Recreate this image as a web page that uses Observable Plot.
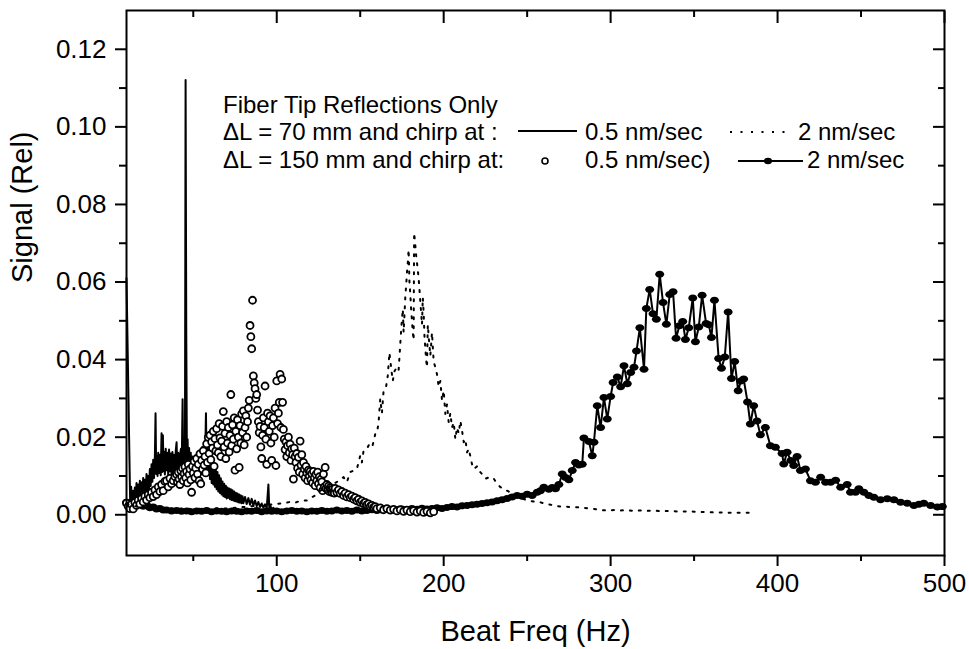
<!DOCTYPE html>
<html><head><meta charset="utf-8">
<script src="https://cdn.jsdelivr.net/npm/d3@7"></script>
<script src="https://cdn.jsdelivr.net/npm/@observablehq/plot@0.6"></script>
<style>html,body{margin:0;padding:0;background:#fff}#chart{width:969px;height:649px}</style>
</head><body><div id="chart"></div>
<script>
// ---- axis ticks & text ----
const xMajor = [100, 200, 300, 400, 500];
const xMinor = [50, 150, 250, 350, 450];
const yMajor = [0, 0.02, 0.04, 0.06, 0.08, 0.10, 0.12];
const yMinor = [0.01, 0.03, 0.05, 0.07, 0.09, 0.11];
const xTitle = "Beat Freq (Hz)";
const yTitle = "Signal (Rel)";
const legendTitle = "Fiber Tip Reflections Only";
const legendRow1 = "\u0394L = 70 mm and chirp at :";
const legendRow2 = "\u0394L = 150 mm and chirp at:";
const legendLabels = ["0.5 nm/sec", "2 nm/sec", "0.5 nm/sec)", "2 nm/sec"];

// ---- ΔL = 70 mm, 0.5 nm/sec (solid line) [Hz, signal] ----
const dl70slow = [
[10,0.061],[12.2,0.0030],[12.8,0.0072],[13.3,0.0032],[14,0.0062],[14.5,0.0028],[15,0.0070],[15.5,0.0036],
[16,0.0082],[16.5,0.0040],[17,0.0078],[17.5,0.0038],[18,0.0088],[18.5,0.0046],[19,0.0084],[19.5,0.0050],
[20,0.0095],[20.5,0.0055],[21,0.0090],[21.5,0.0058],[22,0.0105],[22.5,0.0062],[23,0.0100],[23.5,0.0066],
[24,0.0118],[24.5,0.0074],[25,0.0130],[25.5,0.0085],[26,0.0142],[26.5,0.0095],[27,0.0150],[27.4,0.0262],
[27.8,0.0105],[28.2,0.0152],[28.6,0.0100],[29,0.0160],[29.5,0.0108],[30,0.0155],[30.5,0.0102],[31,0.0210],
[31.4,0.0110],[31.8,0.0205],[32.2,0.0112],[32.6,0.0162],[33,0.0104],[33.5,0.0170],[34,0.0115],[34.5,0.0160],
[35,0.0100],[35.5,0.0168],[36,0.0112],[36.5,0.0158],[37,0.0098],[37.5,0.0162],[38,0.0108],[38.5,0.0155],
[39,0.0096],[39.5,0.0165],[40,0.0187],[40.5,0.0104],[41,0.0160],[41.5,0.0098],[42,0.0152],[42.6,0.0170],
[43,0.0100],[43.6,0.0298],[44,0.0120],[44.5,0.0180],[45,0.0112],[45.4,0.1121],[45.8,0.0470],[46.2,0.0130],
[46.6,0.0195],[47,0.0115],[47.5,0.0172],[48,0.0105],[48.5,0.0160],[49,0.0095],[49.5,0.0150],[50,0.0088],
[50.5,0.0140],[51,0.0085],[51.5,0.0145],[52,0.0090],[52.5,0.0155],[53,0.0095],[53.5,0.0165],[54,0.0100],
[54.5,0.0160],[55,0.0105],[55.5,0.0175],[56,0.0110],[56.5,0.0165],[57,0.0118],[57.6,0.0262],[58,0.0122],
[58.5,0.0202],[59,0.0105],[59.5,0.0152],[60,0.0092],[60.5,0.0138],[61,0.0082],[61.5,0.0130],[62,0.0078],
[62.5,0.0122],[63,0.0072],[63.5,0.0116],[64,0.0066],[64.5,0.0110],[65,0.0060],[65.5,0.0102],[66,0.0056],
[66.5,0.0094],[67,0.0052],[67.5,0.0086],[68,0.0048],[68.5,0.0080],[69,0.0046],[69.5,0.0075],[70,0.0042],
[70.5,0.0070],[71,0.0044],[71.5,0.0068],[72,0.0040],[72.5,0.0066],[73,0.0038],[73.5,0.0063],[74,0.0037],
[74.5,0.0060],[75,0.0035],[75.5,0.0057],[76,0.0034],[76.5,0.0055],[77,0.0032],[77.5,0.0052],[78,0.0031],
[78.5,0.0050],[79,0.0030],[79.5,0.0048],[80,0.0030],[81,0.0046],[82,0.0028],[83,0.0043],[84,0.0026],
[85,0.0041],[86,0.0024],[87,0.0037],[88,0.0022],[89,0.0033],[90,0.0020],[91,0.0029],[92,0.0018],
[93,0.0027],[94,0.0017],[95,0.0078],[95.5,0.0018],[96,0.0025],[97,0.0014],[98,0.0018],[99,0.0012],[100,0.0015]
];

// ---- ΔL = 70 mm, 2 nm/sec (dotted line) ----
const dl70fast = [
[10,0.0028],[15,0.0022],[20,0.0018],[25,0.0020],[30,0.0016],[35,0.0018],[40,0.0015],[45,0.0017],
[50,0.0014],[55,0.0016],[60,0.0015],[65,0.0017],[70,0.0016],[75,0.0018],[80,0.0020],[85,0.0022],
[90,0.0024],[95,0.0026],[100,0.0028],[104,0.0030],[108,0.0033],[111,0.0031],[114,0.0036],[118,0.0037],
[121,0.0045],[124,0.0052],[126,0.0062],[129,0.0068],[132,0.0075],[135,0.0082],[138,0.0090],[140,0.0097],
[142,0.0084],[144,0.0110],[146,0.0114],[148,0.0118],[150,0.0152],[151,0.0135],[152,0.0165],[154,0.0170],
[156,0.0187],[157.5,0.0180],[159,0.0208],[160,0.0210],[161,0.0238],[161.5,0.0268],[162,0.0299],[163,0.0262],
[164,0.0320],[165.5,0.0330],[166.5,0.0358],[167,0.0388],[167.5,0.0418],[168.5,0.0380],[169.5,0.0345],[170.5,0.0370],
[172,0.0380],[173,0.0372],[174,0.0440],[174.5,0.0474],[175,0.0504],[175.5,0.0530],[176,0.0470],[177,0.0560],
[177.5,0.0590],[178,0.0624],[178.5,0.0650],[179,0.0684],[179.5,0.0600],[180,0.0570],[180.5,0.0530],[181,0.0500],
[181.5,0.0470],[182,0.0450],[182.3,0.0727],[183,0.0695],[183.5,0.0669],[184,0.0650],[184.5,0.0630],[185,0.0610],
[185.5,0.0580],[186,0.0550],[186.5,0.0520],[187,0.0490],[187.5,0.0560],[188,0.0520],[188.5,0.0460],[189,0.0430],
[189.5,0.0400],[190,0.0380],[190.5,0.0490],[191,0.0460],[192,0.0410],[193,0.0470],[194,0.0395],[195,0.0380],
[196,0.0362],[197,0.0330],[198,0.0345],[199,0.0294],[200,0.0320],[201,0.0260],[202,0.0285],[203,0.0238],
[204,0.0262],[205,0.0225],[206,0.0238],[207,0.0195],[208,0.0225],[209,0.0210],[210,0.0242],[211,0.0217],
[212,0.0187],[213,0.0195],[214,0.0161],[215,0.0170],[217,0.0130],[218,0.0118],[220,0.0125],[221,0.0114],
[223,0.0105],[225,0.0093],[228,0.0098],[230,0.0093],[232,0.0080],[234,0.0071],[236,0.0068],[238,0.0062],
[241,0.0055],[244,0.0050],[247,0.0042],[250,0.0037],[254,0.0034],[258,0.0032],[261,0.0028],[264,0.0026],
[268,0.0022],[272,0.0021],[276,0.0020],[281,0.0019],[286,0.0017],[290,0.0015],[294,0.0012],[298,0.0011],
[302,0.0012],[306,0.0011],[310,0.0012],[314,0.0010],[318,0.0011],[322,0.0010],[326,0.0011],[330,0.0009],
[334,0.0010],[338,0.0009],[342,0.0008],[346,0.0009],[350,0.0008],[354,0.0007],[358,0.0007],[362,0.0006],
[366,0.0006],[370,0.0005],[374,0.0006],[378,0.0005],[382,0.0005],[384,0.0005]
];

// ---- ΔL = 150 mm, 0.5 nm/sec (open circles) ----
const dl150slow = [
[10,0.0030],[11,0.0022],[12,0.0016],[13,0.0027],[14,0.0015],[15,0.0032],[16,0.0024],[17,0.0038],[18,0.0028],[19,0.0042],
[20,0.0033],[21,0.0048],[22,0.0038],[23,0.0052],[24,0.0044],[25,0.0058],[26,0.0047],[27,0.0064],[28,0.0052],[29,0.0072],
[30,0.0060],[31,0.0078],[32,0.0062],[33,0.0086],[34,0.0088],[35,0.0072],[36,0.0094],[37,0.0080],[38,0.0088],[39,0.0098],
[40,0.0104],[40.5,0.0085],[41,0.0110],[41.5,0.0092],[42,0.0078],[42.5,0.0114],[43,0.0098],[43.5,0.0120],[44,0.0088],[44.5,0.0106],
[45,0.0124],[45.5,0.0095],[46,0.0112],[46.5,0.0082],[47,0.0130],[47.5,0.0104],[48,0.0118],[48.5,0.0090],[49,0.0058],[49.5,0.0125],
[50,0.0108],[50.5,0.0138],[51,0.0096],[51.5,0.0120],[52,0.0145],[52.5,0.0105],[53,0.0130],[53.5,0.0088],[54,0.0157],[54.5,0.0080],
[55,0.0140],[55.5,0.0118],[56,0.0165],[56.5,0.0128],[57,0.0150],[57.5,0.0108],[58,0.0183],[58.5,0.0135],[59,0.0200],[59.5,0.0158],
[60,0.0205],[60.5,0.0142],[61,0.0188],[61.5,0.0172],[62,0.0215],[62.5,0.0125],[63,0.0196],[63.5,0.0165],[64,0.0222],[64.5,0.0180],
[65,0.0160],[65.5,0.0235],[66,0.0198],[66.5,0.0150],[67,0.0190],[67.5,0.0228],[68,0.0266],[68.5,0.0175],[69,0.0210],[69.5,0.0145],
[70,0.0240],[70.5,0.0185],[71,0.0225],[71.5,0.0162],[72,0.0205],[72.5,0.0310],[73,0.0178],[73.5,0.0232],[74,0.0195],[74.5,0.0250],
[75,0.0115],[75.5,0.0215],[76,0.0170],[76.5,0.0245],[77,0.0200],[77.5,0.0122],[78,0.0230],[78.5,0.0185],[79,0.0260],[79.5,0.0212],
[80,0.0268],[80.5,0.0180],[81,0.0225],[81.5,0.0255],[82,0.0200],[82.5,0.0240],[83,0.0275],[83.5,0.0295],[84,0.0488],[84.5,0.0459],
[85,0.0428],[85.5,0.0553],[86,0.0358],[86.5,0.0340],[87,0.0325],[87.5,0.0300],[88,0.0310],[88.5,0.0270],[89,0.0240],[89.5,0.0212],
[90,0.0228],[90.5,0.0175],[91,0.0145],[91.5,0.0205],[92,0.0250],[92.5,0.0225],[93,0.0332],[93.5,0.0195],[94,0.0130],[94.5,0.0262],
[95,0.0240],[95.5,0.0215],[96,0.0255],[96.5,0.0185],[97,0.0140],[97.5,0.0230],[98,0.0250],[98.5,0.0200],[99,0.0275],[99.5,0.0127],
[100,0.0345],[100.5,0.0235],[101,0.0262],[101.5,0.0290],[102,0.0362],[102.5,0.0225],[103,0.0350],[103.5,0.0290],[104,0.0220],[104.5,0.0195],
[105,0.0168],[105.5,0.0188],[106,0.0150],[106.5,0.0178],[107,0.0200],[107.5,0.0160],[108,0.0182],[108.5,0.0140],[109,0.0170],[109.5,0.0155],
[110,0.0092],[110.5,0.0172],[111,0.0150],[111.5,0.0135],[112,0.0158],[112.5,0.0120],[113,0.0148],[113.5,0.0110],[114,0.0190],[114.5,0.0128],
[115,0.0155],[115.5,0.0105],[116,0.0135],[116.5,0.0118],[117,0.0095],[117.5,0.0125],[118,0.0108],[118.5,0.0088],[119,0.0115],[119.5,0.0100],
[120,0.0112],[120.5,0.0090],[121,0.0106],[121.5,0.0082],[122,0.0112],[122.5,0.0096],[123,0.0075],[123.5,0.0104],[124,0.0088],[124.5,0.0110],
[125,0.0080],[125.5,0.0098],[126,0.0070],[126.5,0.0092],[127,0.0085],[127.5,0.0062],[128,0.0105],[128.5,0.0072],[129,0.0122],[129.5,0.0068],
[130,0.0078],[130.5,0.0064],[131,0.0074],[131.5,0.0060],[132,0.0070],[132.5,0.0062],[133,0.0058],[133.5,0.0066],[134,0.0060],[134.5,0.0056],
[135,0.0068],[136,0.0058],[137,0.0064],[138,0.0055],[139,0.0060],[140,0.0050],[141,0.0056],[142,0.0046],[143,0.0052],[144,0.0044],
[145,0.0048],[146,0.0040],[147,0.0044],[148,0.0036],[149,0.0040],[150,0.0032],[151,0.0036],[152,0.0029],[153,0.0032],[154,0.0026],
[155,0.0028],[156,0.0022],[157,0.0024],[158,0.0019],[159,0.0021],[160,0.0016],[162,0.0018],[164,0.0013],[166,0.0016],[168,0.0012],
[170,0.0014],[172,0.0010],[174,0.0013],[176,0.0009],[178,0.0012],[180,0.0008],[182,0.0011],[184,0.0007],[186,0.0010],[188,0.0006],
[190,0.0009],[192,0.0005],[194,0.0008]
];

// ---- ΔL = 150 mm, 2 nm/sec (line + filled dots) ----
const dl150fast = [
[10,0.0032],[12,0.0028],[14,0.0035],[16,0.0025],[18,0.0030],[20,0.0022],[22,0.0026],[24,0.0018],[26,0.0020],[28,0.0015],
[30,0.0016],[32,0.0012],[34,0.0012],[37,0.0010],[40,0.0011],[43,0.0009],[46,0.0010],[49,0.0008],[52,0.0010],[55,0.0009],
[58,0.0011],[61,0.0008],[64,0.0010],[67,0.0009],[70,0.0008],[73,0.0010],[76,0.0009],[79,0.0008],[82,0.0010],[85,0.0009],
[88,0.0011],[91,0.0008],[94,0.0010],[97,0.0009],[100,0.0010],[103,0.0008],[106,0.0010],[109,0.0011],[112,0.0009],[115,0.0010],
[118,0.0008],[121,0.0010],[124,0.0009],[127,0.0011],[130,0.0009],[133,0.0010],[136,0.0012],[139,0.0010],[142,0.0011],[145,0.0009],
[148,0.0012],[151,0.0010],[154,0.0011],[157,0.0013],[160,0.0011],[163,0.0012],[166,0.0014],[169,0.0012],[172,0.0013],[175,0.0015],
[178,0.0013],[181,0.0016],[184,0.0014],[187,0.0017],[190,0.0015],[193,0.0016],[196,0.0018],[199,0.0016],[202,0.0019],[205,0.0021],
[208,0.0020],[211,0.0023],[214,0.0024],[217,0.0026],[220,0.0027],[223,0.0029],[226,0.0031],[229,0.0033],[232,0.0036],[235,0.0039],
[238,0.0042],[241,0.0046],[244,0.0050],[247,0.0048],[250,0.0053],[253,0.0050],[256,0.0058],[258,0.0062],[260,0.0071],[263,0.0066],
[265,0.0070],[267,0.0067],[269,0.0078],[271,0.0105],[273,0.0096],[275,0.0090],[277,0.0114],[279,0.0135],[281,0.0128],[283,0.0130],
[284,0.0198],[287,0.0189],[289,0.0152],[290,0.0187],[292,0.0281],[294,0.0225],[296,0.0302],[298,0.0247],[300,0.0305],[301.5,0.0341],
[304,0.0355],[306,0.0330],[308,0.0384],[310,0.0338],[312,0.0367],[314,0.0380],[315.5,0.0422],[317.5,0.0482],[320,0.0375],[321.4,0.0532],
[323.4,0.0581],[325.4,0.0518],[327.4,0.0504],[329.4,0.0620],[331.4,0.0547],[333.4,0.0491],[335.4,0.0568],[337.4,0.0575],[339.2,0.0455],[341.2,0.0487],
[343.2,0.0498],[344.8,0.0452],[346.8,0.0482],[349.2,0.0559],[350.8,0.0446],[352.8,0.0484],[354.8,0.0566],[357.2,0.0493],[358.8,0.0490],[360.4,0.0457],
[362.2,0.0553],[364.7,0.0403],[366.4,0.0378],[368.4,0.0407],[370.4,0.0523],[372.4,0.0351],[374.3,0.0395],[376.4,0.0320],[378,0.0345],[379.7,0.0350],
[382,0.0291],[383.7,0.0234],[385.7,0.0281],[387.7,0.0242],[389.7,0.0206],[392.7,0.0225],[395.7,0.0178],[398.7,0.0174],[402.7,0.0158],[403.7,0.0131],
[405.7,0.0161],[408,0.0140],[409.7,0.0127],[411.7,0.0150],[413.7,0.0114],[416.7,0.0118],[419.7,0.0088],[422.7,0.0084],[425.8,0.0097],[428.8,0.0084],
[431.8,0.0084],[434.8,0.0089],[437.8,0.0071],[441.7,0.0078],[443.7,0.0058],[446.7,0.0058],[448.7,0.0067],[451.7,0.0058],[454.7,0.0050],[457.7,0.0045],
[461.7,0.0039],[465.7,0.0041],[469.7,0.0039],[473.7,0.0032],[477.7,0.0030],[481.7,0.0024],[484.7,0.0027],[487.6,0.0030],[491.7,0.0024],[495.7,0.0020],
[498.7,0.0021]
];

const fx = d => d[0], fy = d => d[1];
const FONT = "'Liberation Sans', Arial, Helvetica, sans-serif";

// flattened ellipse marker like the original filled symbols
const ellipse = {
  draw(ctx) {
    const rx = 4.5, ry = 3.5, kx = rx * 0.5523, ky = ry * 0.5523;
    ctx.moveTo(rx, 0);
    ctx.bezierCurveTo(rx, ky, kx, ry, 0, ry);
    ctx.bezierCurveTo(-kx, ry, -rx, ky, -rx, 0);
    ctx.bezierCurveTo(-rx, -ky, -kx, -ry, 0, -ry);
    ctx.bezierCurveTo(kx, -ry, rx, -ky, rx, 0);
    ctx.closePath();
  }
};

const blank = () => "";
const chart = Plot.plot({
  width: 969, height: 649,
  marginLeft: 126, marginRight: 25, marginTop: 10, marginBottom: 94,
  style: {fontFamily: FONT, color: "black", background: "white", overflow: "visible"},
  x: {domain: [10, 500], axis: null},
  y: {domain: [-0.0105, 0.13], axis: null},
  marks: [
    Plot.line(dl150fast, {x: fx, y: fy, stroke: "black", strokeWidth: 2}),
    Plot.dot(dl150fast, {x: fx, y: fy, fill: "black", stroke: "none", symbol: ellipse}),
    Plot.line(dl70slow, {x: fx, y: fy, stroke: "black", strokeWidth: 2}),
    Plot.dot(dl150slow, {x: fx, y: fy, r: 3.5, fill: "white", stroke: "black", strokeWidth: 1.8}),
    Plot.line(dl70fast, {x: fx, y: fy, stroke: "black", strokeWidth: 2, strokeDasharray: "2,7"}),
    Plot.frame({stroke: "black", strokeWidth: 2}),
    Plot.axisX({ticks: xMajor, anchor: "bottom", tickSize: 11, tickPadding: 7, fontSize: 26, strokeWidth: 2, label: null, tickFormat: d3.format("d")}),
    Plot.axisX({ticks: xMinor, anchor: "bottom", tickSize: 6, strokeWidth: 2, label: null, tickFormat: blank}),
    Plot.axisX({ticks: xMajor, anchor: "top", tickSize: -12, strokeWidth: 2, label: null, tickFormat: blank}),
    Plot.axisX({ticks: xMinor, anchor: "top", tickSize: -6, strokeWidth: 2, label: null, tickFormat: blank}),
    Plot.axisY({ticks: yMajor, anchor: "left", tickSize: 11, tickPadding: 9, fontSize: 26, strokeWidth: 2, label: null, tickFormat: d3.format(".2f")}),
    Plot.axisY({ticks: yMinor, anchor: "left", tickSize: 7, strokeWidth: 2, label: null, tickFormat: blank}),
    Plot.axisY({ticks: yMajor, anchor: "right", tickSize: -12, strokeWidth: 2, label: null, tickFormat: blank}),
    Plot.axisY({ticks: yMinor, anchor: "right", tickSize: -7, strokeWidth: 2, label: null, tickFormat: blank}),
    Plot.text([xTitle], {text: d => d, frameAnchor: "bottom", dy: 85, lineAnchor: "bottom", fontSize: 29}),
    Plot.text([yTitle], {text: d => d, frameAnchor: "left", rotate: -90, dx: -95, lineAnchor: "bottom", fontSize: 29})
  ]
});
document.getElementById("chart").appendChild(chart);

// ---- legend (inside the plot area, upper middle) ----
const svg = d3.select(chart);
const lg = svg.append("g").attr("font-family", FONT).attr("font-size", 24)
  .attr("fill", "black").attr("text-anchor", "start");
lg.append("text").attr("x", 223).attr("y", 113).text(legendTitle);
lg.append("text").attr("x", 223).attr("y", 140).text(legendRow1);
lg.append("text").attr("x", 223).attr("y", 168).text(legendRow2);
lg.append("line").attr("x1", 518).attr("x2", 577).attr("y1", 131).attr("y2", 131).attr("stroke", "black").attr("stroke-width", 2);
lg.append("text").attr("x", 585).attr("y", 140).text(legendLabels[0]);
lg.append("line").attr("x1", 730).attr("x2", 790).attr("y1", 132).attr("y2", 132).attr("stroke", "black").attr("stroke-width", 2).attr("stroke-dasharray", "2,8.5");
lg.append("text").attr("x", 798).attr("y", 140).text(legendLabels[1]);
lg.append("circle").attr("cx", 545).attr("cy", 161).attr("r", 3).attr("fill", "none").attr("stroke", "black").attr("stroke-width", 1.6);
lg.append("text").attr("x", 585).attr("y", 168).text(legendLabels[2]);
lg.append("line").attr("x1", 738).attr("x2", 803).attr("y1", 161).attr("y2", 161).attr("stroke", "black").attr("stroke-width", 2);
lg.append("ellipse").attr("cx", 768).attr("cy", 161).attr("rx", 4).attr("ry", 3.2).attr("fill", "black");
lg.append("text").attr("x", 807).attr("y", 168).text(legendLabels[3]);
</script>
</body></html>
